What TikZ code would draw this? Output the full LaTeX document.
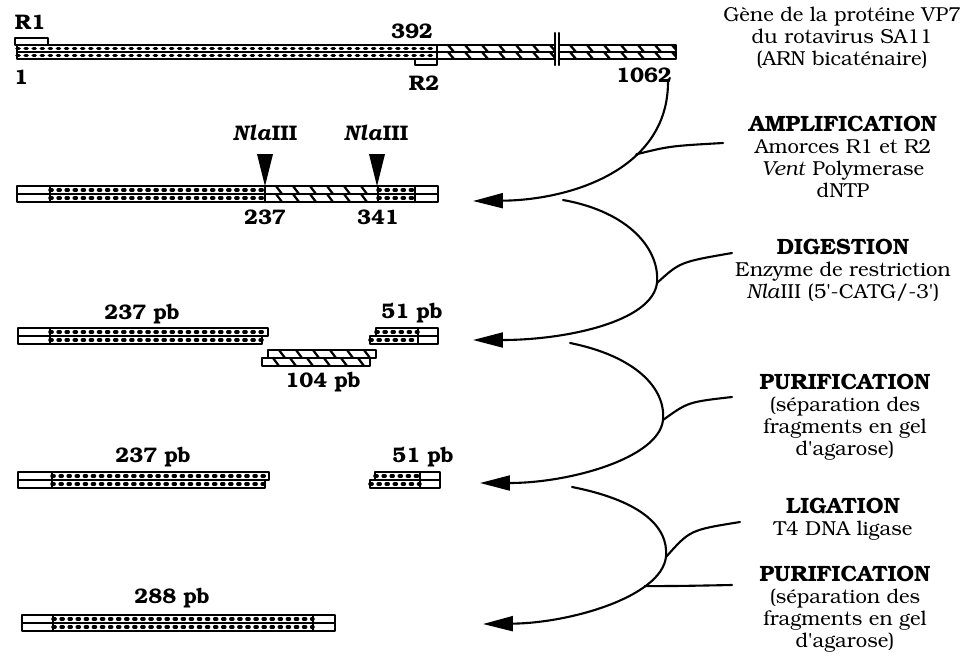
\documentclass[tikz,border=0pt]{standalone}
\usepackage[T1]{fontenc}
\usepackage{bookman}
\usetikzlibrary{arrows.meta}

\tikzset{
  strandline/.style={line width=1.2pt},
  dotline/.style={line width=2pt, dash pattern=on 1.2pt off 3.4pt},
  hatchline/.style={line width=1.3pt},
  flowarrow/.style={line width=1.2pt, -{Triangle[length=17pt,width=8.5pt]}},
  twigline/.style={line width=1.2pt},
  numlabel/.style={font=\fontsize{12}{14}\selectfont\bfseries, inner sep=0pt},
  stagetext/.style={font=\fontsize{11.5}{12.6}\selectfont, align=center, anchor=north, inner sep=0pt},
  stagehead/.style={font=\fontsize{12.6}{12.6}\selectfont\bfseries},
  sitemark/.style={fill=black}
}

% one strand segment: x1, x2, y top, y bottom
\newcommand{\segplain}[4]{\draw[strandline] (#1,#3) rectangle (#2,#4);}
\newcommand{\segdots}[4]{%
  \draw[dotline] (#1,{(#3+#4)/2}) -- (#2,{(#3+#4)/2});
  \draw[strandline] (#1,#3) rectangle (#2,#4);}
\newcommand{\seghatch}[4]{%
  \begin{scope}
    \clip (#1,#3) rectangle (#2,#4);
    \foreach \k in {0,...,16} \draw[hatchline] ({#1-6+17*\k},#3) -- ++(6,{#4-#3});
  \end{scope}
  \draw[strandline] (#1,#3) rectangle (#2,#4);}
\newcommand{\hd}[1]{{\fontsize{12.6}{12.6}\selectfont\bfseries #1}}

\begin{document}
\begin{tikzpicture}[x=0.02cm, y=-0.02cm, line cap=round, line join=round]
\useasboundingbox (0,0) rectangle (975,657);

% gene VP7
\segplain{15}{48}{38}{45}
\foreach \ya/\yb in {45/52,52/59}{
  \segdots{17}{437}{\ya}{\yb}
  \seghatch{437}{555}{\ya}{\yb}
  \seghatch{559}{676}{\ya}{\yb}
}
\segplain{415}{437}{59}{65}
\draw[strandline] (555,33) -- (555,65) (559,33) -- (559,65);
\node[numlabel] (r1) at (30,22) {R1};
\node[numlabel] (one) at (21,77) {1};
\node[numlabel] (p392) at (412,31) {392};
\node[numlabel] (r2) at (424,83) {R2};
\node[numlabel] (p1062) at (644,75) {1062};

% amplified fragment
\foreach \ya/\yb in {186/194,194/202}{
  \segplain{17}{50}{\ya}{\yb}
  \segdots{50}{265}{\ya}{\yb}
  \seghatch{265}{378}{\ya}{\yb}
  \segdots{378}{415}{\ya}{\yb}
  \segplain{415}{438}{\ya}{\yb}
}
\node[numlabel] (nla1) at (265,133) {\textit{Nla}III};
\node[numlabel] (nla2) at (376,133) {\textit{Nla}III};
\fill[sitemark] (257,154) -- (273,154) -- (265,186) -- cycle;
\fill[sitemark] (369,154) -- (385,154) -- (377,186) -- cycle;
\node[numlabel] (c237) at (265,217) {237};
\node[numlabel] (c341) at (378,217) {341};

% digestion
\segplain{18}{50}{328}{336} \segdots{50}{268}{328}{336}
\segplain{18}{50}{336}{344} \segdots{50}{262}{336}{344}
\seghatch{268}{376}{350}{358}
\seghatch{262}{370}{358}{366}
\segdots{376}{418}{328}{336} \segplain{418}{438}{328}{336}
\segdots{370}{418}{336}{344} \segplain{418}{438}{336}{344}
\node[numlabel] (d237) at (142,314) {237 pb};
\node[numlabel] (d104) at (323,382) {104 pb};
\node[numlabel] (d51) at (412,313) {51 pb};

% purified fragments
\segplain{18}{52}{472}{480} \segdots{52}{269}{472}{480}
\segplain{18}{52}{480}{488} \segdots{52}{265}{480}{488}
\segdots{375}{420}{472}{480} \segplain{420}{440}{472}{480}
\segdots{370}{420}{480}{488} \segplain{420}{440}{480}{488}
\node[numlabel] (g237) at (153,457) {237 pb};
\node[numlabel] (g51) at (423,457) {51 pb};

% ligation product
\foreach \ya/\yb in {615/623,623/631}{
  \segplain{22}{53}{\ya}{\yb}
  \segdots{53}{313}{\ya}{\yb}
  \segplain{313}{335}{\ya}{\yb}
}
\node[numlabel] (l288) at (172,598) {288 pb};

% steps
\node[stagetext] (gene) at (842,7) {G\`ene de la prot\'eine VP7\\du rotavirus SA11\\(ARN bicat\'enaire)};
\node[stagetext] (ampl) at (843,115) {\hd{AMPLIFICATION}\\Amorces R1 et R2\\\textit{Vent} Polymerase\\dNTP};
\node[stagetext] (dig) at (843,238) {\hd{DIGESTION}\\Enzyme de restriction\\\textit{Nla}III (5\textquotesingle-CATG/-3\textquotesingle)};
\node[stagetext] (puri1) at (845,373) {\hd{PURIFICATION}\\(s\'eparation des\\fragments en gel\\d\textquotesingle agarose)};
\node[stagetext] (lig) at (843,497) {\hd{LIGATION}\\T4 DNA ligase};
\node[stagetext] (puri2) at (845,565) {\hd{PURIFICATION}\\(s\'eparation des\\fragments en gel\\d\textquotesingle agarose)};

% arrows
\coordinate (s1) at (668,82);  \coordinate (t1) at (473,201);
\coordinate (s2) at (563,200); \coordinate (j2) at (657,283); \coordinate (t2) at (473,340);
\coordinate (s3) at (570,343); \coordinate (j3) at (663,420); \coordinate (t3) at (480,483);
\coordinate (s4) at (572,487); \coordinate (j4) at (666,557); \coordinate (t4) at (483,624);
\coordinate (e1) at (723,143); \coordinate (e2) at (732,253); \coordinate (e3) at (732,397);
\coordinate (e4) at (740,522); \coordinate (e5) at (732,585);

\draw[flowarrow] (s1) .. controls (668,170) and (570,200) .. (t1) coordinate[pos=0.35] (j1);
\draw[flowarrow] (s2) .. controls (630,212) and (660,250) .. (j2) .. controls (652,322) and (565,340) .. (t2);
\draw[flowarrow] (s3) .. controls (635,356) and (666,388) .. (j3) .. controls (659,458) and (570,483) .. (t3);
\draw[flowarrow] (s4) .. controls (638,500) and (669,525) .. (j4) .. controls (661,597) and (570,623) .. (t4) coordinate[pos=0.27] (k4);
\draw[twigline] (j1) .. controls (670,146) .. (e1);
\draw[twigline] (j2) .. controls (680,262) .. (e2);
\draw[twigline] (j3) .. controls (688,402) .. (e3);
\draw[twigline] (j4) .. controls (690,530) .. (e4);
\draw[twigline] (k4) .. controls (680,586) .. (e5);

\end{tikzpicture}
\end{document}
